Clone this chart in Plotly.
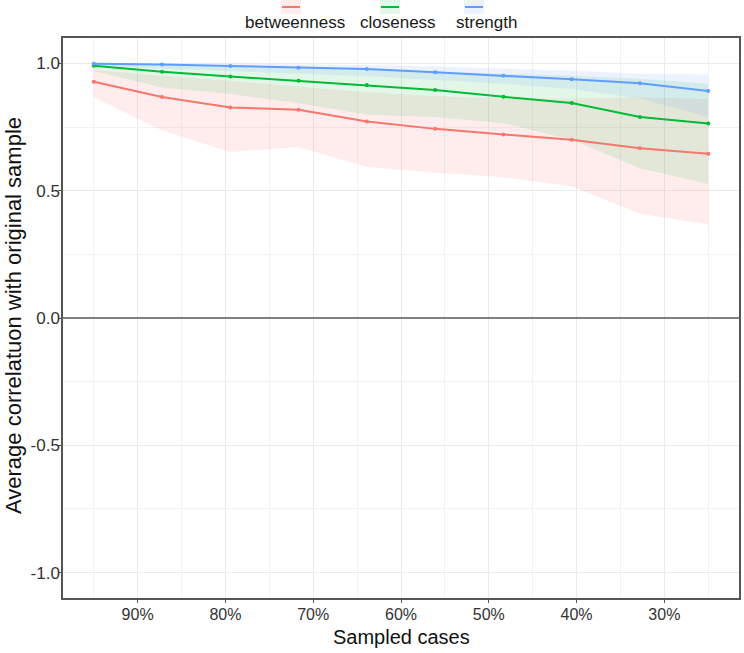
import plotly.graph_objects as go

# Sampled proportion of cases
cases = [0.95, 0.8722, 0.7944, 0.7167, 0.6389, 0.5611, 0.4833, 0.4056, 0.3278, 0.25]

betweenness_mean = [0.928, 0.868, 0.827, 0.818, 0.772, 0.743, 0.721, 0.700, 0.667, 0.645]
betweenness_lo   = [0.867, 0.737, 0.652, 0.672, 0.594, 0.572, 0.553, 0.518, 0.410, 0.368]
betweenness_hi   = [0.975, 0.951, 0.932, 0.909, 0.887, 0.872, 0.862, 0.862, 0.866, 0.860]

closeness_mean = [0.991, 0.967, 0.949, 0.932, 0.915, 0.896, 0.869, 0.845, 0.790, 0.764]
closeness_lo   = [0.970, 0.906, 0.880, 0.844, 0.798, 0.790, 0.765, 0.700, 0.588, 0.526]
closeness_hi   = [0.998, 0.993, 0.988, 0.983, 0.977, 0.968, 0.961, 0.952, 0.940, 0.920]

strength_mean = [0.999, 0.996, 0.990, 0.983, 0.978, 0.965, 0.952, 0.938, 0.922, 0.892]
strength_lo   = [0.990, 0.980, 0.970, 0.960, 0.950, 0.935, 0.920, 0.900, 0.862, 0.790]
strength_hi   = [1.000, 1.000, 0.999, 0.997, 0.994, 0.988, 0.980, 0.972, 0.960, 0.957]

series_names = ["betweenness", "closeness", "strength"]
colors = ["#F8766D", "#00BA38", "#619CFF"]
fills = ["rgba(248,118,109,0.13)", "rgba(0,186,56,0.11)", "rgba(97,156,255,0.12)"]

x_ticks = [0.9, 0.8, 0.7, 0.6, 0.5, 0.4, 0.3]
x_ticklabels = ["90%", "80%", "70%", "60%", "50%", "40%", "30%"]
y_ticks = [1.0, 0.5, 0.0, -0.5, -1.0]
y_ticklabels = ["1.0", "0.5", "0.0", "-0.5", "-1.0"]

x_title = "Sampled cases"
y_title = "Average correlatuon with original sample"

data = [
    (betweenness_mean, betweenness_lo, betweenness_hi),
    (closeness_mean, closeness_lo, closeness_hi),
    (strength_mean, strength_lo, strength_hi),
]

FONT = "Liberation Sans, Arial, sans-serif"
fig = go.Figure()

for (m, lo, hi), name, col, fc in zip(data, series_names, colors, fills):
    fig.add_trace(go.Scatter(
        x=cases + cases[::-1], y=hi + lo[::-1], fill="toself", fillcolor=fc,
        line=dict(width=0), mode="lines", hoverinfo="skip", showlegend=False))

for (m, lo, hi), name, col, fc in zip(data, series_names, colors, fills):
    fig.add_trace(go.Scatter(
        x=cases, y=m, mode="lines+markers", name=name,
        line=dict(color=col, width=2), marker=dict(color=col, size=4),
        showlegend=False))

# zero line
fig.add_shape(type="line", xref="paper", x0=0, x1=1, yref="y", y0=0, y1=0,
              line=dict(color="#7F7F7F", width=2), layer="above")

# plot area geometry (pixels)
L, W, T, H = 63, 676, 38, 560
def px(x): return (x - L) / W
def py(y): return (T + H - y) / H

# Manual legend (keys above labels, as in ggplot)
key_centers = [291, 390, 474]
label_centers = [295, 398, 486]
for kc, lc, name, col, fc in zip(key_centers, label_centers, series_names, colors, fills):
    fig.add_shape(type="rect", xref="paper", yref="paper",
                  x0=px(kc - 10), x1=px(kc + 10), y0=py(14), y1=py(0),
                  fillcolor=fc, line=dict(width=0), layer="above")
    fig.add_shape(type="line", xref="paper", yref="paper",
                  x0=px(kc - 9), x1=px(kc + 9), y0=py(7), y1=py(7),
                  line=dict(color=col, width=2), layer="above")
    fig.add_annotation(xref="paper", yref="paper", x=px(lc), y=py(22),
                       text=name, showarrow=False, xanchor="center", yanchor="middle",
                       font=dict(size=17, color="#1a1a1a", family=FONT))

# axis titles
fig.add_annotation(xref="paper", yref="paper", x=px(401), y=py(637), text=x_title,
                   showarrow=False, xanchor="center", yanchor="middle",
                   font=dict(size=20, color="#111111", family=FONT))
fig.add_annotation(xref="paper", yref="paper", x=px(13), y=py(316), text=y_title,
                   showarrow=False, xanchor="center", yanchor="middle", textangle=-90,
                   font=dict(size=22, color="#111111", family=FONT))

fig.update_layout(
    width=744, height=653,
    margin=dict(l=L, r=744 - L - W, t=T, b=653 - T - H, autoexpand=False),
    paper_bgcolor="white", plot_bgcolor="white",
    font=dict(family=FONT, color="#333333"),
    showlegend=False,
)

fig.update_xaxes(
    range=[0.985, 0.215], tickvals=x_ticks, ticktext=x_ticklabels,
    tickfont=dict(size=16, color="#333333"),
    showgrid=True, gridcolor="#EBEBEB", gridwidth=1,
    minor=dict(dtick=0.05, tick0=0.25, showgrid=True, gridcolor="#F2F2F2", gridwidth=1),
    showline=True, linecolor="#555555", linewidth=1.5, mirror=True,
    ticks="outside", ticklen=3, tickcolor="#555555", ticklabelstandoff=-2,
    zeroline=False, automargin=False,
)
fig.update_yaxes(
    range=[-1.1, 1.1], tickvals=y_ticks, ticktext=y_ticklabels,
    tickfont=dict(size=17, color="#333333"),
    showgrid=True, gridcolor="#EBEBEB", gridwidth=1,
    minor=dict(dtick=0.25, tick0=0, showgrid=True, gridcolor="#F2F2F2", gridwidth=1),
    showline=True, linecolor="#555555", linewidth=1.5, mirror=True,
    ticks="outside", ticklen=3, tickcolor="#555555", ticklabelstandoff=-5,
    zeroline=False, automargin=False,
)

fig.write_html(
    "out.html",
    config={"displayModeBar": False},
    post_script="document.body.style.margin='0';document.body.style.overflow='hidden';",
)
